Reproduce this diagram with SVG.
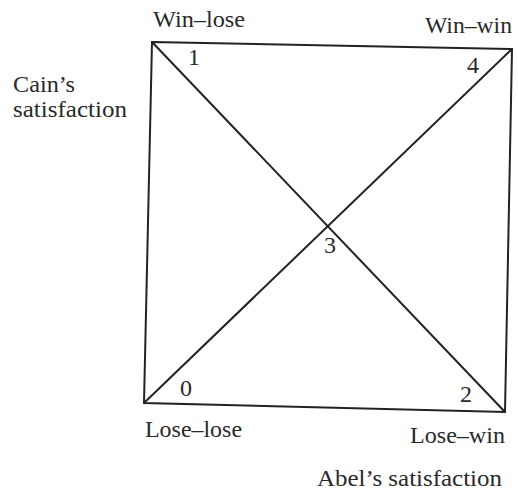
<svg xmlns="http://www.w3.org/2000/svg" width="518" height="492" viewBox="0 0 518 492">
<style>
text{font-family:"Liberation Serif","DejaVu Serif",serif;font-size:24px;fill:#2a2a2a}
.ln{stroke:#222;stroke-width:2;fill:none}
</style>
<rect width="518" height="492" fill="#fff"/>
<g id="connectors">
<polygon class="ln" points="152,42 512,49 505,412 144,403"/>
<line class="ln" x1="152" y1="42" x2="505" y2="412"/>
<line class="ln" x1="144" y1="403" x2="512" y2="49"/>
</g>
<g id="node-win-lose"><text x="153" y="27" textLength="92" lengthAdjust="spacingAndGlyphs">Win–lose</text><text x="188" y="65">1</text></g>
<g id="node-win-win"><text x="425" y="33" textLength="87" lengthAdjust="spacingAndGlyphs">Win–win</text><text x="467" y="73">4</text></g>
<g id="node-lose-lose"><text x="145" y="437" textLength="97" lengthAdjust="spacingAndGlyphs">Lose–lose</text><text x="180" y="396">0</text></g>
<g id="node-lose-win"><text x="410" y="443" textLength="95" lengthAdjust="spacingAndGlyphs">Lose–win</text><text x="460" y="402">2</text></g>
<g id="node-center"><text x="324" y="253">3</text></g>
<g id="axis-cain"><text x="13" y="92" textLength="62" lengthAdjust="spacingAndGlyphs">Cain’s</text><text x="13" y="117" textLength="114" lengthAdjust="spacingAndGlyphs">satisfaction</text></g>
<g id="axis-abel"><text x="317" y="486" textLength="185" lengthAdjust="spacingAndGlyphs">Abel’s satisfaction</text></g>
</svg>
